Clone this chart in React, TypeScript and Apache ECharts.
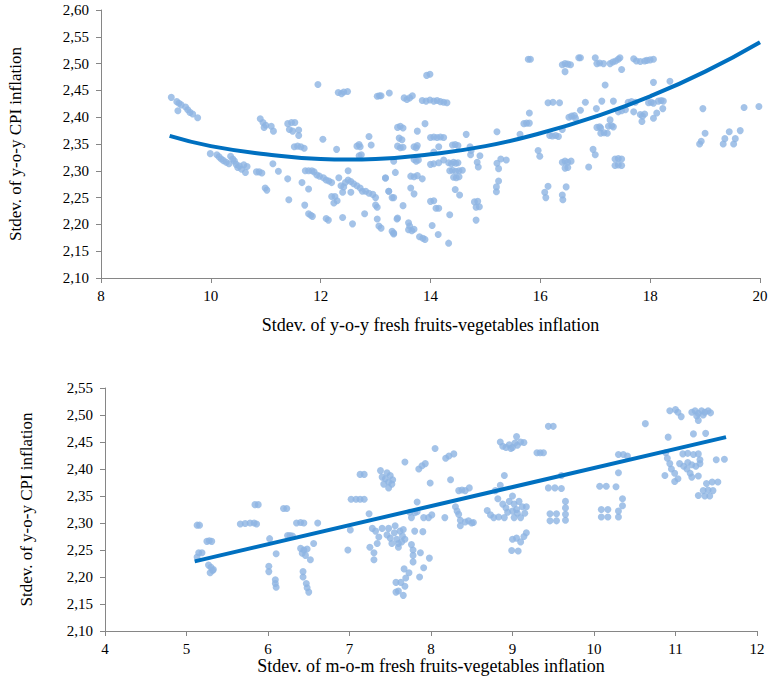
import React, { useEffect, useRef } from "react";
import * as echarts from "echarts";

const topXName = "Stdev. of y-o-y fresh fruits-vegetables inflation";
const bottomXName = "Stdev. of m-o-m fresh fruits-vegetables inflation";
const yName = "Stdev. of y-o-y CPI inflation";

const topPoints: [number, number][] = [
  [9.28,2.437],[9.38,2.429],[9.42,2.426],[9.46,2.423],[9.40,2.412],[9.54,2.419],[9.58,2.414],[9.62,2.409],[9.67,2.406],[9.76,2.399],
  [9.99,2.332],[10.11,2.330],[10.15,2.326],[10.19,2.322],[10.23,2.319],[10.28,2.316],[10.33,2.313],[10.36,2.327],[10.40,2.322],[10.43,2.318],[10.46,2.312],[10.49,2.306],[10.52,2.309],[10.56,2.303],[10.60,2.311],[10.63,2.297],[10.66,2.308],[10.83,2.298],[10.88,2.298],[10.93,2.296],[10.99,2.268],[11.02,2.264],
  [10.90,2.397],[10.95,2.390],[11.00,2.385],[10.97,2.381],[11.10,2.383],[11.14,2.374],[11.13,2.313],[11.23,2.299],[11.40,2.285],[11.42,2.246],
  [11.40,2.388],[11.47,2.390],[11.53,2.390],[11.43,2.377],[11.49,2.374],[11.60,2.376],[11.60,2.366],[11.52,2.345],[11.58,2.346],[11.64,2.345],[11.70,2.342],
  [11.66,2.278],[11.72,2.300],[11.78,2.300],[11.84,2.300],[11.88,2.298],[11.78,2.266],[11.71,2.236],[11.78,2.220],[11.82,2.217],[11.85,2.215],
  [11.95,2.461],[12.04,2.359],[11.93,2.292],[11.98,2.290],[12.05,2.287],[12.10,2.283],[12.15,2.281],[12.20,2.278],[12.10,2.211],[12.14,2.208],[12.20,2.252],[12.26,2.252],[12.24,2.240],[12.30,2.244],
  [12.32,2.446],[12.38,2.444],[12.42,2.447],[12.49,2.448],[12.29,2.340],[12.33,2.287],[12.37,2.272],[12.42,2.270],[12.45,2.278],[12.50,2.283],[12.55,2.280],[12.60,2.276],[12.66,2.272],[12.72,2.268],[12.76,2.262],[12.40,2.260],[12.40,2.213],[12.50,2.300],[12.55,2.260],[12.58,2.201],[12.66,2.346],[12.70,2.349],[12.72,2.345],[12.70,2.328],[12.74,2.330],
  [12.80,2.220],[12.82,2.262],[12.88,2.258],[12.95,2.256],[13.00,2.250],[12.88,2.364],[12.92,2.348],[13.00,2.236],[13.03,2.232],[13.03,2.210],[13.06,2.197],[13.10,2.193],
  [13.03,2.439],[13.07,2.440],[13.10,2.440],[13.25,2.445],[13.18,2.286],[13.24,2.262],[13.30,2.250],[13.33,2.184],[13.40,2.212],
  [13.52,2.436],[13.57,2.433],[13.62,2.436],[13.67,2.440],[13.85,2.431],[13.92,2.430],[13.99,2.432],[14.06,2.430],[14.12,2.431],[14.18,2.429],[14.24,2.428],[14.30,2.427],[13.99,2.480],[13.93,2.478],[13.90,2.388],[13.40,2.381],[13.45,2.383],[13.50,2.380],[13.76,2.374],[13.43,2.361],[13.48,2.358],[13.40,2.346],[13.45,2.343],[13.50,2.344],[13.70,2.345],[13.74,2.343],[13.76,2.347],[14.00,2.362],[14.06,2.363],[14.12,2.362],[14.18,2.363],[14.24,2.362],[14.15,2.345],[14.06,2.335],[14.40,2.348],[14.45,2.349],[14.50,2.347],[14.65,2.368],[14.72,2.345],[14.74,2.338],[14.73,2.330],[14.90,2.328],[14.85,2.316],[14.87,2.307],
  [13.33,2.318],[13.70,2.321],[13.74,2.318],[13.78,2.320],[14.00,2.312],[14.06,2.313],[14.15,2.315],[14.33,2.315],[14.38,2.313],[14.42,2.316],[14.46,2.314],[14.50,2.315],[14.35,2.300],[14.40,2.301],[14.46,2.299],[14.52,2.300],[14.58,2.301],[14.42,2.288],[14.47,2.287],[14.52,2.289],[14.24,2.320],
  [13.18,2.287],[13.36,2.297],[13.64,2.290],[13.70,2.289],[13.76,2.291],[13.85,2.285],[13.24,2.262],[13.33,2.250],[13.64,2.268],[13.70,2.257],[13.50,2.235],[14.00,2.243],[14.06,2.244],[14.10,2.230],[14.15,2.230],[14.45,2.265],[14.53,2.255],[14.80,2.242],[14.86,2.243],[14.83,2.232],[14.89,2.233],[14.35,2.218],[13.39,2.210],[13.60,2.203],[13.62,2.197],[13.60,2.190],[13.66,2.188],[13.70,2.191],[13.80,2.177],[13.86,2.174],[13.90,2.172],[13.30,2.187],[13.33,2.182],[14.03,2.198],[14.14,2.181],[14.33,2.165],[14.83,2.208],
  [15.21,2.373],[15.21,2.314],[15.28,2.322],[15.38,2.320],[15.24,2.304],[15.24,2.281],[15.20,2.270],[15.20,2.261],[15.63,2.368],[15.70,2.388],[15.75,2.389],[15.80,2.389],[15.80,2.408],[15.78,2.508],[15.82,2.508],[15.96,2.338],[15.99,2.327],[16.08,2.260],[16.10,2.250],[16.14,2.271],
  [16.14,2.427],[16.23,2.428],[16.35,2.427],[16.17,2.366],[16.22,2.365],[16.28,2.366],[16.33,2.364],[16.40,2.377],[16.40,2.316],[16.45,2.318],[16.50,2.316],[16.56,2.318],[16.45,2.305],[16.50,2.306],[16.40,2.255],[16.41,2.246],[16.47,2.270],
  [16.40,2.498],[16.45,2.500],[16.50,2.499],[16.55,2.498],[16.45,2.485],[16.52,2.400],[16.57,2.402],[16.62,2.403],[16.64,2.398],[16.73,2.413],[16.70,2.511],[16.73,2.511],[16.82,2.428],[16.88,2.307],[16.96,2.340],[17.00,2.330],
  [17.00,2.511],[17.03,2.500],[17.08,2.501],[17.15,2.500],[17.02,2.416],[17.03,2.381],[17.08,2.382],[17.10,2.380],[17.10,2.370],[17.16,2.371],[17.22,2.370],[17.12,2.430],[17.18,2.460],
  [17.27,2.500],[17.32,2.503],[17.37,2.505],[17.42,2.508],[17.45,2.511],[17.48,2.489],[17.24,2.383],[17.30,2.384],[17.33,2.382],[17.27,2.395],[17.33,2.430],[17.36,2.322],[17.42,2.323],[17.48,2.322],[17.36,2.310],[17.42,2.311],[17.48,2.310],[17.42,2.410],[17.48,2.412],[17.55,2.414],[17.60,2.428],[17.66,2.429],[17.73,2.428],
  [17.70,2.509],[17.75,2.505],[17.82,2.504],[17.90,2.505],[17.94,2.506],[18.00,2.507],[18.06,2.508],[17.70,2.410],[17.82,2.405],[17.86,2.402],[17.90,2.406],[17.85,2.392],[17.97,2.427],[18.02,2.428],[18.06,2.426],[18.06,2.465],[18.06,2.398],[18.15,2.430],[18.20,2.431],[18.24,2.430],[18.23,2.416],[18.12,2.408],[18.36,2.467],
  [18.96,2.416],[18.93,2.355],[18.90,2.350],[19.00,2.370],[19.33,2.350],[19.36,2.360],[19.44,2.373],[19.52,2.350],[19.55,2.360],[19.64,2.375],[19.71,2.418],[19.98,2.420],
];

const topTrendX = [9.25, 10, 11, 12, 12.5, 13, 14, 15, 16, 17, 18, 19, 20];
const topTrendY = [2.365, 2.346, 2.331, 2.322, 2.321, 2.322, 2.331, 2.346, 2.370, 2.401, 2.439, 2.485, 2.540];

const bottomPoints: [number, number][] = [
  [5.13,2.296],[5.16,2.296],[5.15,2.245],[5.19,2.245],[5.13,2.237],[5.25,2.266],[5.28,2.267],[5.31,2.266],[5.27,2.222],[5.30,2.218],[5.32,2.212],[5.29,2.208],[5.33,2.214],
  [5.66,2.298],[5.72,2.299],[5.78,2.300],[5.83,2.300],[5.86,2.298],[5.84,2.334],[5.88,2.334],
  [6.02,2.271],[6.01,2.220],[6.01,2.210],[6.09,2.195],[6.09,2.188],[6.10,2.181],[6.10,2.243],[6.19,2.327],[6.23,2.327],[6.24,2.277],[6.27,2.277],[6.30,2.276],[6.35,2.300],[6.40,2.301],[6.44,2.300],[6.40,2.253],[6.44,2.250],[6.48,2.252],[6.42,2.244],[6.46,2.240],[6.43,2.210],[6.43,2.200],[6.47,2.188],[6.48,2.180],[6.50,2.172],[6.52,2.232],[6.56,2.262],[6.61,2.300],
  [6.98,2.250],[7.01,2.287],[7.02,2.344],[7.08,2.344],[7.13,2.344],[7.18,2.344],[7.13,2.390],[7.18,2.390],[7.24,2.317],[7.25,2.255],[7.28,2.290],[7.32,2.285],[7.30,2.245],[7.30,2.232],[7.34,2.262],[7.36,2.274],
  [7.38,2.397],[7.40,2.385],[7.44,2.382],[7.48,2.376],[7.46,2.393],[7.50,2.388],[7.52,2.372],[7.48,2.365],[7.53,2.380],[7.42,2.372],
  [7.40,2.290],[7.46,2.278],[7.50,2.272],[7.55,2.282],[7.58,2.270],[7.52,2.262],[7.48,2.290],[7.62,2.285],[7.65,2.276],[7.60,2.262],[7.56,2.295],[7.64,2.265],[7.60,2.255],[7.68,2.270],[7.66,2.288],[7.57,2.190],[7.57,2.172],
  [7.68,2.413],[7.83,2.339],[7.85,2.400],[7.89,2.406],[7.93,2.410],[7.99,2.374],[8.05,2.438],[8.18,2.420],[8.22,2.424],[8.28,2.428],[8.24,2.380],
  [7.74,2.320],[7.80,2.319],[7.83,2.321],[7.76,2.310],[7.80,2.285],[7.90,2.284],[7.91,2.310],[7.97,2.310],[8.01,2.315],[7.76,2.260],[7.78,2.250],[7.78,2.240],[7.78,2.228],[7.87,2.245],[7.98,2.235],[7.91,2.217],[7.86,2.200],[7.67,2.215],[7.73,2.208],[7.69,2.198],[7.63,2.190],[7.68,2.183],[7.60,2.174],[7.66,2.166],
  [8.17,2.310],[8.30,2.330],[8.32,2.322],[8.34,2.316],[8.34,2.360],[8.38,2.361],[8.42,2.360],[8.47,2.365],[8.36,2.305],[8.42,2.302],[8.46,2.304],[8.50,2.300],[8.52,2.301],[8.36,2.295],
  [8.69,2.323],[8.73,2.315],[8.77,2.310],[8.83,2.311],[8.79,2.360],[8.85,2.370],[8.90,2.388],
  [8.85,2.450],[8.88,2.442],[8.92,2.440],[8.96,2.445],[9.00,2.440],[9.03,2.448],[9.06,2.444],[9.10,2.450],[9.14,2.449],[9.05,2.460],[8.98,2.438],
  [8.82,2.345],[8.88,2.335],[8.92,2.328],[8.96,2.340],[9.00,2.350],[9.02,2.335],[9.05,2.325],[9.08,2.340],[9.12,2.330],[9.00,2.322],[9.06,2.318],[8.94,2.320],[9.15,2.318],[9.17,2.330],[9.10,2.310],[8.90,2.310],[9.02,2.310],
  [9.00,2.270],[9.05,2.272],[9.10,2.265],[9.14,2.275],[9.17,2.282],[8.99,2.249],[9.07,2.248],
  [9.30,2.430],[9.34,2.430],[9.38,2.430],[9.44,2.479],[9.50,2.479],[9.44,2.365],[9.52,2.365],[9.60,2.364],[9.46,2.317],[9.54,2.317],[9.46,2.304],[9.54,2.304],[9.65,2.340],[9.65,2.328],[9.65,2.316],[9.65,2.305],[9.60,2.388],
  [10.07,2.368],[10.15,2.368],[10.27,2.367],[10.09,2.325],[10.17,2.325],[10.09,2.311],[10.17,2.311],[10.30,2.322],[10.30,2.311],[10.35,2.345],[10.35,2.332],[10.30,2.393],[10.30,2.427],[10.36,2.427],[10.41,2.424],[10.63,2.484],
  [10.91,2.459],[10.93,2.508],[11.00,2.510],[11.03,2.505],[11.07,2.497],[11.20,2.505],[11.24,2.508],[11.28,2.503],[11.32,2.508],[11.36,2.505],[11.40,2.508],[11.43,2.504],[11.26,2.498],[11.34,2.500],[11.28,2.490],[11.22,2.465],[11.37,2.466],
  [10.88,2.430],[10.90,2.420],[10.93,2.410],[10.87,2.388],[10.95,2.400],[10.99,2.392],[11.03,2.382],[10.99,2.377],[11.09,2.428],[11.15,2.429],[11.22,2.427],[11.28,2.428],[11.05,2.410],[11.10,2.405],[11.15,2.412],[11.20,2.408],[11.25,2.405],[11.30,2.410],[11.14,2.400],[11.18,2.392],[11.20,2.385],[11.28,2.387],[11.30,2.417],[11.28,2.351],[11.34,2.360],[11.40,2.361],[11.46,2.360],[11.38,2.373],[11.45,2.376],[11.52,2.376],[11.36,2.350],[11.42,2.350],[11.50,2.417],[11.60,2.418],
];

const bottomTrendX = [5.1, 11.62];
const bottomTrendY = [2.229, 2.459];

const FONT = "Liberation Serif";
const AXIS_COLOR = "#868686";
const DOT_COLOR = "#8DB4E2";
const LINE_COLOR = "#0070C0";

function yAxisCfg(gridIndex: number, min: number, max: number, nameGap: number) {
  return {
    type: "value",
    gridIndex,
    min,
    max,
    interval: 0.05,
    name: yName,
    nameLocation: "middle",
    nameRotate: 90,
    nameGap,
    nameTextStyle: { fontFamily: FONT, fontSize: 17, color: "#000" },
    axisLine: { show: true, lineStyle: { color: AXIS_COLOR, width: 1 } },
    axisTick: { show: true, length: 5, lineStyle: { color: AXIS_COLOR } },
    axisLabel: {
      fontFamily: FONT,
      fontSize: 15,
      color: "#000",
      margin: 12,
      formatter: (v: number) => v.toFixed(2).replace(".", ","),
    },
    splitLine: { show: false },
  };
}

function xAxisCfg(gridIndex: number, min: number, max: number, interval: number, name: string, nameGap: number) {
  return {
    type: "value",
    gridIndex,
    min,
    max,
    interval,
    name,
    nameLocation: "middle",
    nameGap,
    nameTextStyle: { fontFamily: FONT, fontSize: 18, color: "#000" },
    axisLine: { show: true, onZero: false, lineStyle: { color: AXIS_COLOR, width: 1 } },
    axisTick: { show: true, length: 5, lineStyle: { color: AXIS_COLOR } },
    axisLabel: { fontFamily: FONT, fontSize: 15, color: "#000", margin: 10 },
    splitLine: { show: false },
  };
}

export default function App() {
  const ref = useRef<HTMLDivElement>(null);
  useEffect(() => {
    if (!ref.current) return;
    const chart = echarts.init(ref.current, undefined, { renderer: "svg" });
    chart.setOption({
      animation: false,
      backgroundColor: "#fff",
      grid: [
        { left: 101, top: 10, width: 659, height: 268, outerBoundsMode: "none" },
        { left: 105, top: 388, width: 652, height: 243, outerBoundsMode: "none" },
      ],
      xAxis: [
        xAxisCfg(0, 8, 20, 2, topXName, 38),
        xAxisCfg(1, 4, 12, 1, bottomXName, 25),
      ],
      yAxis: [yAxisCfg(0, 2.1, 2.6, 77), yAxisCfg(1, 2.1, 2.55, 70)],
      series: [
        {
          type: "scatter",
          xAxisIndex: 0,
          yAxisIndex: 0,
          symbolSize: 7,
          itemStyle: { color: DOT_COLOR },
          data: topPoints,
          z: 2,
        },
        {
          type: "line",
          xAxisIndex: 0,
          yAxisIndex: 0,
          smooth: true,
          showSymbol: false,
          lineStyle: { color: LINE_COLOR, width: 4 },
          data: topTrendX.map((x, i) => [x, topTrendY[i]]),
          z: 3,
        },
        {
          type: "scatter",
          xAxisIndex: 1,
          yAxisIndex: 1,
          symbolSize: 7,
          itemStyle: { color: DOT_COLOR },
          data: bottomPoints,
          z: 2,
        },
        {
          type: "line",
          xAxisIndex: 1,
          yAxisIndex: 1,
          showSymbol: false,
          lineStyle: { color: LINE_COLOR, width: 4 },
          data: bottomTrendX.map((x, i) => [x, bottomTrendY[i]]),
          z: 3,
        },
      ],
    });
    return () => chart.dispose();
  }, []);
  return <div ref={ref} style={{ width: 770, height: 683, position: "absolute", left: 0, top: 0 }} />;
}
